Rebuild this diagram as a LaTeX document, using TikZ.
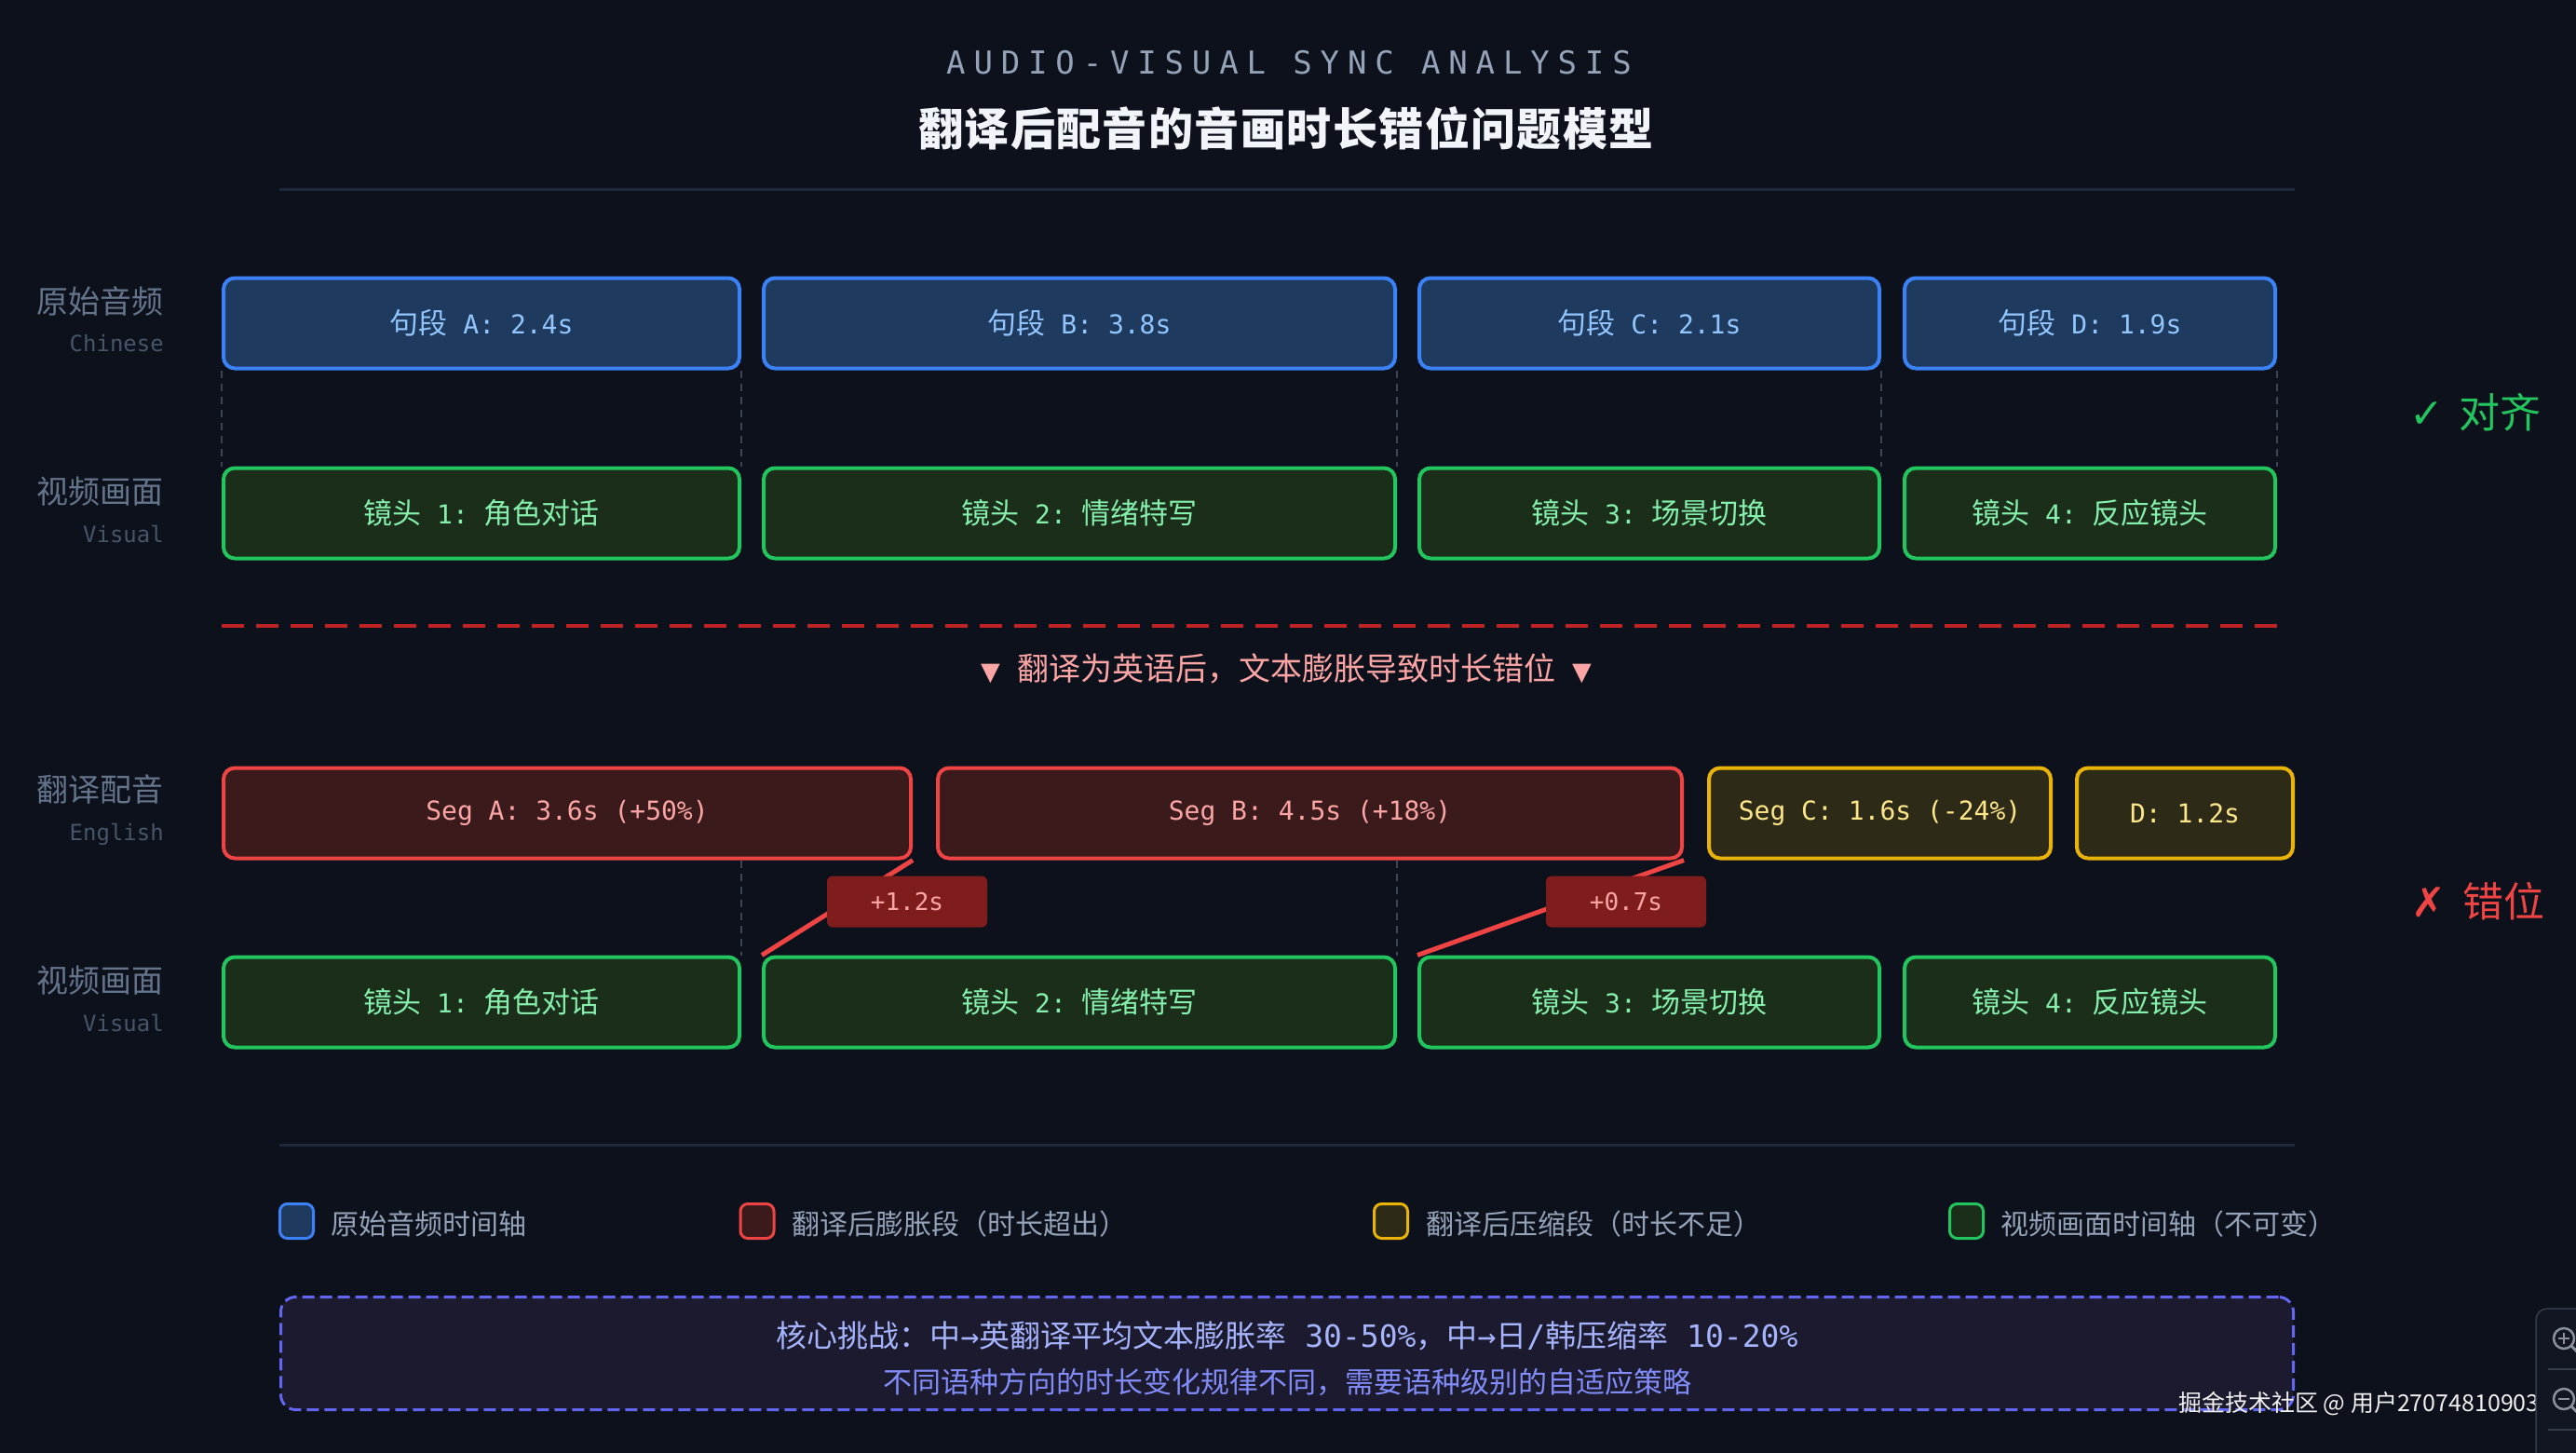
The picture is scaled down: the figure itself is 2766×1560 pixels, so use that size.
\documentclass[tikz,border=0pt]{standalone}
\usepackage{fontspec}
\setmainfont{Noto Sans CJK SC}
\setmonofont{DejaVu Sans Mono}
\newfontfamily\symfont{DejaVu Sans}
\newfontfamily\spacedmono[LetterSpace=26]{DejaVu Sans Mono}
\newfontfamily\titlefont[LetterSpace=3]{Noto Sans CJK SC}
\newcommand\setfs[1]{\fontsize{#1pt}{#1pt}\selectfont}
\newcommand\mt[1]{{\setfs{28}\ttfamily #1}}
\definecolor{bg}{HTML}{0D111C}
\definecolor{blueB}{HTML}{3B82F6}
\definecolor{blueF}{HTML}{1E3A5F}
\definecolor{blueT}{HTML}{93C5FD}
\definecolor{greenB}{HTML}{22C55E}
\definecolor{greenF}{HTML}{1A2E1A}
\definecolor{greenT}{HTML}{86EFAC}
\definecolor{redB}{HTML}{EF4444}
\definecolor{redF}{HTML}{3B1A1C}
\definecolor{redT}{HTML}{FCA5A5}
\definecolor{yelB}{HTML}{EAB308}
\definecolor{yelF}{HTML}{2E2A18}
\definecolor{yelT}{HTML}{FDE68A}
\definecolor{deltaF}{HTML}{7F1D1D}
\definecolor{labC}{HTML}{64748B}
\definecolor{subC}{HTML}{475569}
\definecolor{ruleC}{HTML}{1E293B}
\definecolor{guideC}{HTML}{3A4454}
\definecolor{sepC}{HTML}{DC2626}
\definecolor{noteB}{HTML}{6366F1}
\definecolor{noteF}{HTML}{1C1A2E}
\definecolor{noteA}{HTML}{A5B4FC}
\definecolor{noteBt}{HTML}{818CF8}
\definecolor{legC}{HTML}{94A3B8}
\definecolor{titleC}{HTML}{F1F5F9}
\definecolor{panelB}{HTML}{353C4A}
\definecolor{panelF}{HTML}{111622}
\definecolor{iconC}{HTML}{8A909C}
\begin{document}
\begin{tikzpicture}[x=1pt,y=-1pt,
  box/.style={rounded corners=12pt, line width=4pt, minimum height=97pt, inner sep=0pt, align=center, font=\setfs{31}},
  bluebox/.style={box, draw=blueB, fill=blueF, text=blueT},
  greenbox/.style={box, draw=greenB, fill=greenF, text=greenT},
  redbox/.style={box, draw=redB, fill=redF, text=redT},
  yellowbox/.style={box, draw=yelB, fill=yelF, text=yelT},
  rowlab/.style={anchor=base east, inner sep=0pt, text=labC, font=\setfs{34}},
  rowsub/.style={anchor=base east, inner sep=0pt, text=subC, font=\setfs{24}\ttfamily},
  guide/.style={draw=guideC, line width=2pt, dash pattern=on 8pt off 6pt},
  shiftline/.style={draw=redB, line width=5pt},
  delta/.style={fill=deltaF, rounded corners=6pt, minimum width=172pt, minimum height=55pt, inner sep=0pt, text=redT, font=\setfs{26}\ttfamily},
  legsq/.style={minimum width=36pt, minimum height=37pt, line width=3pt, rounded corners=8pt, inner sep=0pt},
  legtxt/.style={anchor=west, inner sep=0pt, text=legC, font=\setfs{30}},
  rulestyle/.style={draw=ruleC, line width=3pt}
]
\clip (0,0) rectangle (2766,1560);
\fill[bg] (0,0) rectangle (2766,1560);

% titles
\node[text=legC, font=\setfs{34}\spacedmono, inner sep=0pt] (t0) at (1384,67) {AUDIO-VISUAL SYNC ANALYSIS};
\node[text=titleC, font=\setfs{48}\titlefont\bfseries, inner sep=0pt] (t1) at (1381,138) {翻译后配音的音画时长错位问题模型};
\draw[rulestyle] (300,203) -- (2464,203);

% row labels
\node[rowlab] (l1) at (176,336) {原始音频};
\node[rowsub] (l1s) at (176,377) {Chinese};
\node[rowlab] (l2) at (176,540) {视频画面};
\node[rowsub] (l2s) at (176,582) {Visual};
\node[rowlab] (l3) at (176,860) {翻译配音};
\node[rowsub] (l3s) at (176,902) {English};
\node[rowlab] (l4) at (176,1065) {视频画面};
\node[rowsub] (l4s) at (176,1107) {Visual};

% row 1: original audio
\node[bluebox, minimum width=554pt] (a1) at (517,347) {句段\mt{ A: 2.4s}};
\node[bluebox, minimum width=678pt] (a2) at (1159,347) {句段\mt{ B: 3.8s}};
\node[bluebox, minimum width=494pt] (a3) at (1771,347) {句段\mt{ C: 2.1s}};
\node[bluebox, minimum width=398pt] (a4) at (2244,347) {句段\mt{ D: 1.9s}};

% row 2: visual
\node[greenbox, minimum width=554pt] (v1) at (517,551) {镜头\mt{ 1: }角色对话};
\node[greenbox, minimum width=678pt] (v2) at (1159,551) {镜头\mt{ 2: }情绪特写};
\node[greenbox, minimum width=494pt] (v3) at (1771,551) {镜头\mt{ 3: }场景切换};
\node[greenbox, minimum width=398pt] (v4) at (2244,551) {镜头\mt{ 4: }反应镜头};

% alignment guides
\draw[guide] (a1.south west) -- (v1.north west);
\draw[guide] (a1.south east) -- (v1.north east);
\draw[guide] (a2.south east) -- (v2.north east);
\draw[guide] (a3.south east) -- (v3.north east);
\draw[guide] (a4.south east) -- (v4.north east);

\node[anchor=west, inner sep=0pt, text=greenB, font=\setfs{44}] (ok) at (2587,443) {{\symfont ✓}\hspace{16pt}对齐};

% separator
\draw[draw=sepC, line width=3.5pt, dash pattern=on 24pt off 13pt, opacity=0.85] (238,672) -- (2452,672);
\node[text=redT, font=\setfs{34}, inner sep=0pt] (sep) at (1381,718) {{\symfont\setfs{27}▼}\hspace{18pt}翻译为英语后，文本膨胀导致时长错位\hspace{18pt}{\symfont\setfs{27}▼}};

% row 3: translated dub
\node[redbox, minimum width=738pt] (s1) at (609,873) {\mt{Seg A: 3.6s (+50\%)}};
\node[redbox, minimum width=799pt] (s2) at (1406.5,873) {\mt{Seg B: 4.5s (+18\%)}};
\node[yellowbox, minimum width=367pt] (s3) at (2018.5,873) {\mt{Seg C: 1.6s (-24\%)}};
\node[yellowbox, minimum width=232pt] (s4) at (2346,873) {\mt{D: 1.2s}};

% row 4: visual
\node[greenbox, minimum width=554pt] (w1) at (517,1076) {镜头\mt{ 1: }角色对话};
\node[greenbox, minimum width=678pt] (w2) at (1159,1076) {镜头\mt{ 2: }情绪特写};
\node[greenbox, minimum width=494pt] (w3) at (1771,1076) {镜头\mt{ 3: }场景切换};
\node[greenbox, minimum width=398pt] (w4) at (2244,1076) {镜头\mt{ 4: }反应镜头};

\draw[guide] (w1.north east |- s1.south) -- (w1.north east);
\draw[guide] (w2.north east |- s2.south) -- (w2.north east);

% offset connectors
\draw[shiftline] (s1.south east) -- (w2.north west);
\draw[shiftline] (s2.south east) -- (w3.north west);
\node[delta] (d1) at (974,968) {+1.2s};
\node[delta] (d2) at (1746,968) {+0.7s};

\node[anchor=west, inner sep=0pt, text=redB, font=\setfs{44}] (bad) at (2589,968) {{\symfont ✗}\hspace{18pt}错位};

\draw[rulestyle] (300,1229) -- (2464,1229);

% legend
\node[legsq, draw=blueB, fill=blueF] (g1) at (318.5,1311) {};
\node[legtxt] (g1t) at (355,1314) {原始音频时间轴};
\node[legsq, draw=redB, fill=redF] (g2) at (813,1311) {};
\node[legtxt] (g2t) at (850,1314) {翻译后膨胀段（时长超出）};
\node[legsq, draw=yelB, fill=yelF] (g3) at (1493.5,1311) {};
\node[legtxt] (g3t) at (1531,1314) {翻译后压缩段（时长不足）};
\node[legsq, draw=greenB, fill=greenF] (g4) at (2111.5,1311) {};
\node[legtxt] (g4t) at (2148,1314) {视频画面时间轴（不可变）};

% note box
\node[draw=noteB, fill=noteF, line width=3pt, dash pattern=on 13pt off 6pt, rounded corners=16pt, minimum width=2161pt, minimum height=121pt, inner sep=0pt] (note) at (1382,1453) {};
\node[text=noteA, font=\setfs{33}, inner sep=0pt] (n1) at (1382,1434) {核心挑战：中\texttt{→}英翻译平均文本膨胀率\texttt{ 30-50\%}，中\texttt{→}日\texttt{/}韩压缩率\texttt{ 10-20\%}};
\node[text=noteBt, font=\setfs{31}, inner sep=0pt] (n2) at (1382,1484) {不同语种方向的时长变化规律不同，需要语种级别的自适应策略};

% watermark
\node[anchor=west, inner sep=0pt, text=white!88!gray, font=\setfs{25}] (wm) at (2339,1507) {掘金技术社区 @ 用户27074810903};

% viewer panel at the edge
\draw[draw=panelB, fill=panelF, line width=1.5pt, rounded corners=12pt] (2723,1405) rectangle (2820,1620);
\draw[draw=iconC, line width=2.5pt] (2753,1437) circle (11);
\draw[draw=iconC, line width=2.5pt] (2747,1437) -- (2759,1437) (2753,1431) -- (2753,1443);
\draw[draw=iconC, line width=3pt] (2761,1445) -- (2770,1454);
\draw[draw=panelB, line width=1.5pt] (2736,1470) -- (2766,1470);
\draw[draw=iconC, line width=2.5pt] (2753,1502) circle (11);
\draw[draw=iconC, line width=2.5pt] (2747,1502) -- (2759,1502);
\draw[draw=iconC, line width=3pt] (2761,1510) -- (2770,1519);
\draw[draw=panelB, line width=1.5pt] (2736,1535) -- (2766,1535);
\end{tikzpicture}
\end{document}
